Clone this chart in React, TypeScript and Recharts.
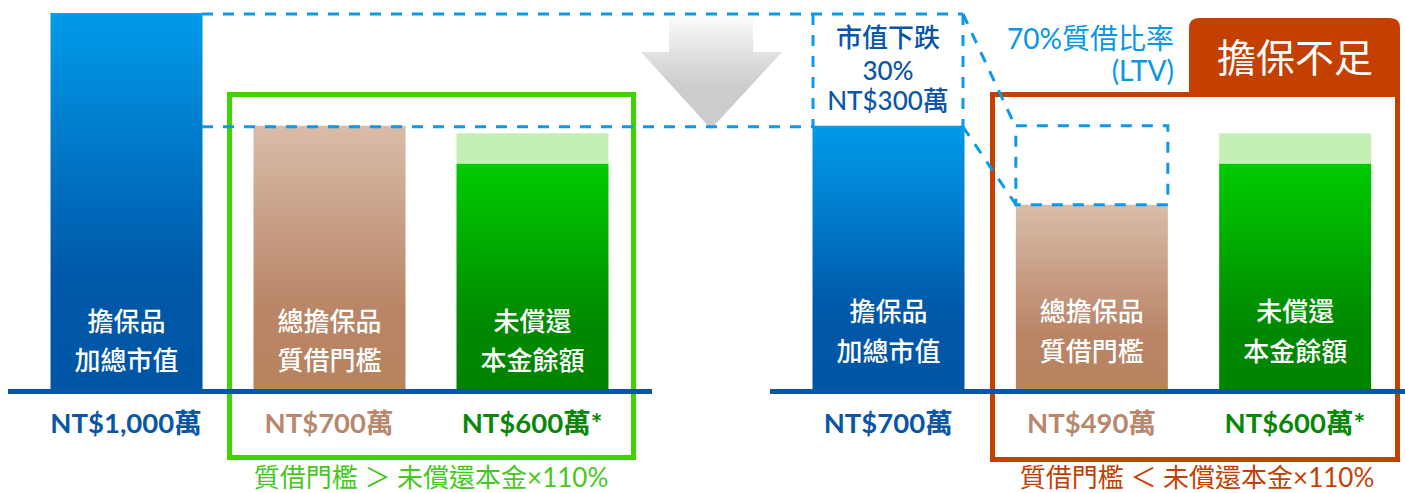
import React from 'react';
import { BarChart, Bar, XAxis, YAxis, ReferenceLine, LabelList, Cell } from 'recharts';

// bar names (two lines each), shared by both panels
const barNames = ['擔保品\n加總市值', '總擔保品\n質借門檻', '未償還\n本金餘額'];

// left panel: before the drop
const leftValues = [1000, 700, 600];
const leftBuffer = [0, 0, 80];
const leftDrop = [0, 0, 0];
const leftTicks = ['NT$1,000萬', 'NT$700萬', 'NT$600萬*'];

// right panel: market value down 30%
const rightValues = [700, 490, 600];
const rightBuffer = [0, 0, 80];
const rightDrop = [0, 210, 0];
const rightTicks = ['NT$700萬', 'NT$490萬', 'NT$600萬*'];

const Y_MAX = 1000;

const FONT = "Lato, 'Noto Sans CJK TC', 'Noto Sans', sans-serif";
const GRADS = [
  ['#009be9', '#0058a9', '#0055a5'],
  ['#d9bca9', '#b98566', '#b8835f'],
  ['#00cc00', '#008a00', '#008300'],
];
const TICK_COLORS = ['#0a56a6', '#b9876b', '#078807'];
const DASH = '#0d99e8';
const AXIS_BLUE = '#0a56a6';
const OK_GREEN = '#3fd400';
const BAD_RED = '#c44000';

const H = 493;
const PLOT_TOP = 13;
const PLOT_BOTTOM = 389;
const AXIS_H = 60;

const yPix = (v: number) => PLOT_TOP + (1 - v / Y_MAX) * (PLOT_BOTTOM - PLOT_TOP);

const innerLabel = (lift: number[]) => (p: any) => {
  const lines = String(p.value).split('\n');
  const cx = p.x + p.width / 2;
  const bottom = p.y + p.height;
  return (
    <g>
      {lines.map((t, k) => (
        <text key={k} x={cx} y={bottom - lift[k]} textAnchor="middle" dominantBaseline="central"
          fill="#fff" fontSize={26} fontWeight={500} fontFamily={FONT}>{t}</text>
      ))}
    </g>
  );
};

function Panel(props: any) {
  const { id, values, buffer, drop, ticks, width, left, padL, padR, marginL, marginR, lift } = props;
  const data = barNames.map((name, i) => ({ name, value: values[i], buffer: buffer[i], drop: drop[i] }));
  return (
    <div style={{ position: 'absolute', left, top: 0 }}>
      <BarChart width={width} height={H} data={data}
        margin={{ top: PLOT_TOP, right: marginR, bottom: H - PLOT_BOTTOM - AXIS_H, left: marginL }}>
        <defs>
          {GRADS.map((g, i) => (
            <linearGradient key={i} id={`${id}-g${i}`} x1="0" y1="0" x2="0" y2="1">
              <stop offset="0%" stopColor={g[0]} />
              <stop offset="70%" stopColor={g[1]} />
              <stop offset="100%" stopColor={g[2]} />
            </linearGradient>
          ))}
        </defs>
        <XAxis dataKey="name" height={AXIS_H} padding={{ left: padL, right: padR }} axisLine={false}
          tickLine={false} tickSize={0} tickMargin={0} interval={0}
          tick={(t: any) => (
            <text x={t.x} y={t.y + 33} textAnchor="middle" dominantBaseline="central" fontSize={27.5}
              fontWeight={700} fontFamily={FONT} fill={TICK_COLORS[t.index]}>{ticks[t.index]}</text>
          )} />
        <YAxis hide domain={[0, Y_MAX]} />
        <Bar dataKey="value" stackId="s" barSize={152} isAnimationActive={false}>
          {data.map((d, i) => <Cell key={i} fill={`url(#${id}-g${i})`} />)}
          <LabelList dataKey="name" content={innerLabel(lift)} />
        </Bar>
        <Bar dataKey="buffer" stackId="s" barSize={152} fill="#c4f0b6" isAnimationActive={false} />
        <Bar dataKey="drop" stackId="s" barSize={152} isAnimationActive={false}>
          {data.map((d, i) => (
            <Cell key={i} fill="none" stroke={d.drop > 0 ? DASH : 'none'} strokeWidth={3} strokeDasharray="11 10" />
          ))}
        </Bar>
        <ReferenceLine y={0} shape={(p: any) => (
          <line x1={p.x1} x2={p.x2} y1={p.y1 + 2.5} y2={p.y2 + 2.5} stroke={AXIS_BLUE} strokeWidth={5} />
        )} />
      </BarChart>
    </div>
  );
}

export default function App() {
  const yTop = yPix(leftValues[0]) + 1;
  const yMid = yPix(rightValues[0]) + 1;
  const yLow = yPix(rightValues[1]);
  const dashProps = { stroke: DASH, strokeWidth: 3, strokeDasharray: '11 10', fill: 'none' };
  return (
    <div style={{ position: 'absolute', left: 0, top: 0, width: 1405, height: H, overflow: 'hidden', background: '#fff' }}>
      {/* back layer: threshold boxes */}
      <svg width={1405} height={H} style={{ position: 'absolute', left: 0, top: 0 }}>
        <rect x={229.5} y={94.5} width={404} height={363} fill="none" stroke={OK_GREEN} strokeWidth={5} />
        <rect x={992.5} y={94.5} width={405} height={365} fill="none" stroke={BAD_RED} strokeWidth={5} />
        <path d="M1189,96 V28 Q1189,18 1199,18 H1390 Q1400,18 1400,28 V96 Z" fill={BAD_RED} />
        <text x={1295} y={57} textAnchor="middle" dominantBaseline="central" fontSize={39} fill="#fff" fontFamily={FONT}>擔保不足</text>
        <text x={431} y={477} textAnchor="middle" dominantBaseline="central" fontSize={26} fill="#44c81c" fontFamily={FONT}>質借門檻 ＞ 未償還本金×110%</text>
        <text x={1197} y={477} textAnchor="middle" dominantBaseline="central" fontSize={26} fill={BAD_RED} fontFamily={FONT}>質借門檻 ＜ 未償還本金×110%</text>
      </svg>

      <Panel id="l" values={leftValues} buffer={leftBuffer} drop={leftDrop} ticks={leftTicks}
        width={660} left={0} marginL={8} marginR={8} padL={16.5} padR={18.5} lift={[68, 29]} />
      <Panel id="r" values={rightValues} buffer={rightBuffer} drop={rightDrop} ticks={rightTicks}
        width={645} left={760} marginL={10} marginR={0} padL={16.5} padR={8.5} lift={[78, 38]} />

      {/* front layer: arrow, dashed guides, notes */}
      <svg width={1405} height={H} style={{ position: 'absolute', left: 0, top: 0, pointerEvents: 'none' }}>
        <defs>
          <linearGradient id="arrowG" x1="0" y1="0" x2="0" y2="1">
            <stop offset="0%" stopColor="#fafafa" />
            <stop offset="60%" stopColor="#cdcdcd" />
            <stop offset="100%" stopColor="#cccccc" />
          </linearGradient>
        </defs>
        <polygon points="669,17 753,17 753,52 782,52 711,129 641,52 669,52" fill="url(#arrowG)" />
        <line x1={202} y1={yTop} x2={963} y2={yTop} {...dashProps} />
        <line x1={202} y1={yMid} x2={813} y2={yMid} {...dashProps} />
        <line x1={813} y1={yTop} x2={813} y2={yMid} {...dashProps} />
        <line x1={963} y1={yTop} x2={963} y2={yMid} {...dashProps} />
        <line x1={963} y1={yTop} x2={1016} y2={yMid + 1} {...dashProps} />
        <line x1={963} y1={yMid} x2={1016} y2={yLow} {...dashProps} />
        <g fontFamily={FONT} fontSize={26} fontWeight={500} fill={AXIS_BLUE} textAnchor="middle">
          <text x={888} y={37} dominantBaseline="central">市值下跌</text>
          <text x={888} y={70} dominantBaseline="central">30%</text>
          <text x={888} y={100} dominantBaseline="central">NT$300萬</text>
        </g>
        <g fontFamily={FONT} fontSize={28} fill="#0996e2" textAnchor="end">
          <text x={1174} y={38} dominantBaseline="central">70%質借比率</text>
          <text x={1174} y={70} dominantBaseline="central">(LTV)</text>
        </g>
      </svg>
    </div>
  );
}
